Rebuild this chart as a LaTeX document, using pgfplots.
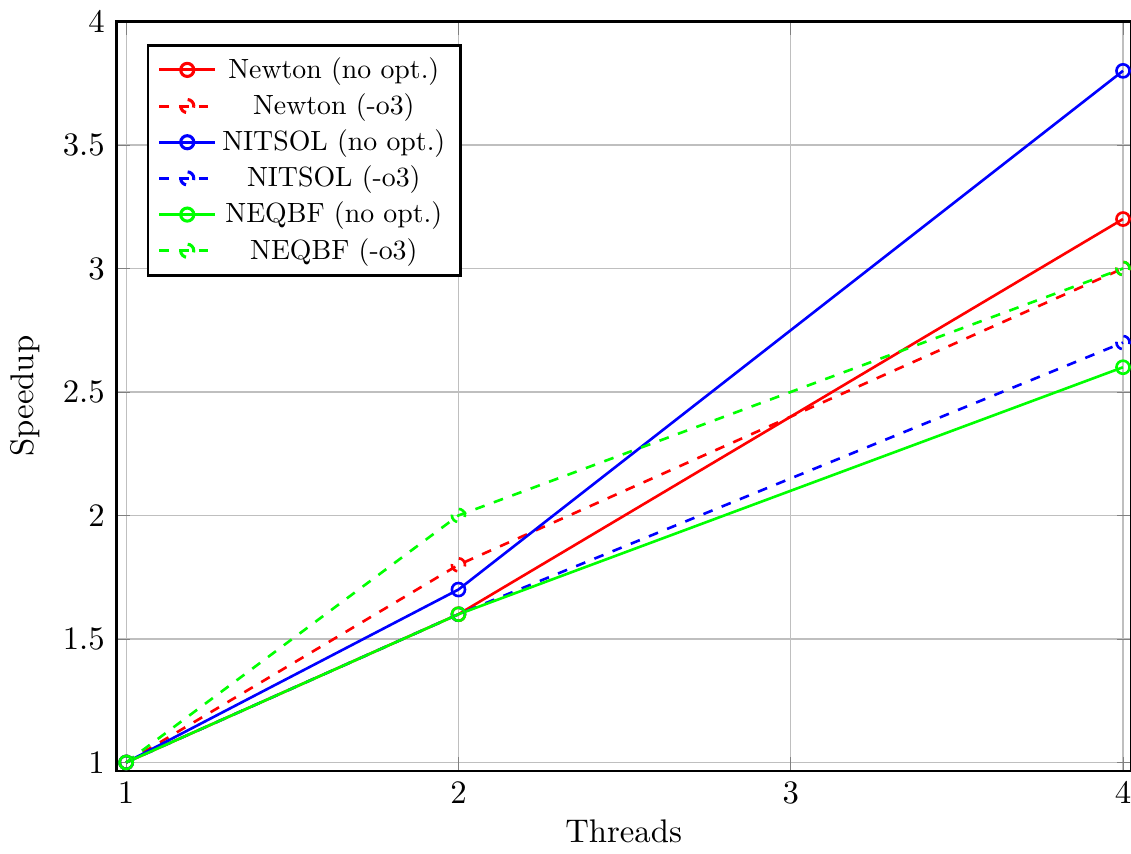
\documentclass[border=0pt]{standalone}
\usepackage{pgfplots}
\pgfplotsset{compat=1.18}
\begin{document}
\begin{tikzpicture}[trim axis right]
\begin{axis}[
  scale only axis,
  width=310pt, height=229pt,
  xmin=0.97, xmax=4.024,
  ymin=0.965, ymax=4,
  xtick={1,2,3,4},
  ytick={1,1.5,2,2.5,3,3.5,4},
  grid=major,
  xlabel={Threads},
  ylabel={Speedup},
  xlabel style={yshift=2pt},
  axis line style={thick},
  legend pos=north west,
  legend cell align=center,
  legend style={thick, nodes={scale=0.85, transform shape}},
  legend image post style={line width=0.94pt},
  every axis plot/.append style={thick},
]
\addplot[red, mark=o] coordinates {(1,1) (2,1.6) (4,3.2)};
\addlegendentry{Newton (no opt.)}
\addplot[red, dashed, mark=o] coordinates {(1,1) (2,1.8) (4,3.0)};
\addlegendentry{Newton (-o3)}
\addplot[blue, mark=o] coordinates {(1,1) (2,1.7) (4,3.8)};
\addlegendentry{NITSOL (no opt.)}
\addplot[blue, dashed, mark=o] coordinates {(1,1) (2,1.6) (4,2.7)};
\addlegendentry{NITSOL (-o3)}
\addplot[green, mark=o] coordinates {(1,1) (2,1.6) (4,2.6)};
\addlegendentry{NEQBF (no opt.)}
\addplot[green, dashed, mark=o] coordinates {(1,1) (2,2.0) (4,3.0)};
\addlegendentry{NEQBF (-o3)}
\end{axis}
\end{tikzpicture}
\end{document}
